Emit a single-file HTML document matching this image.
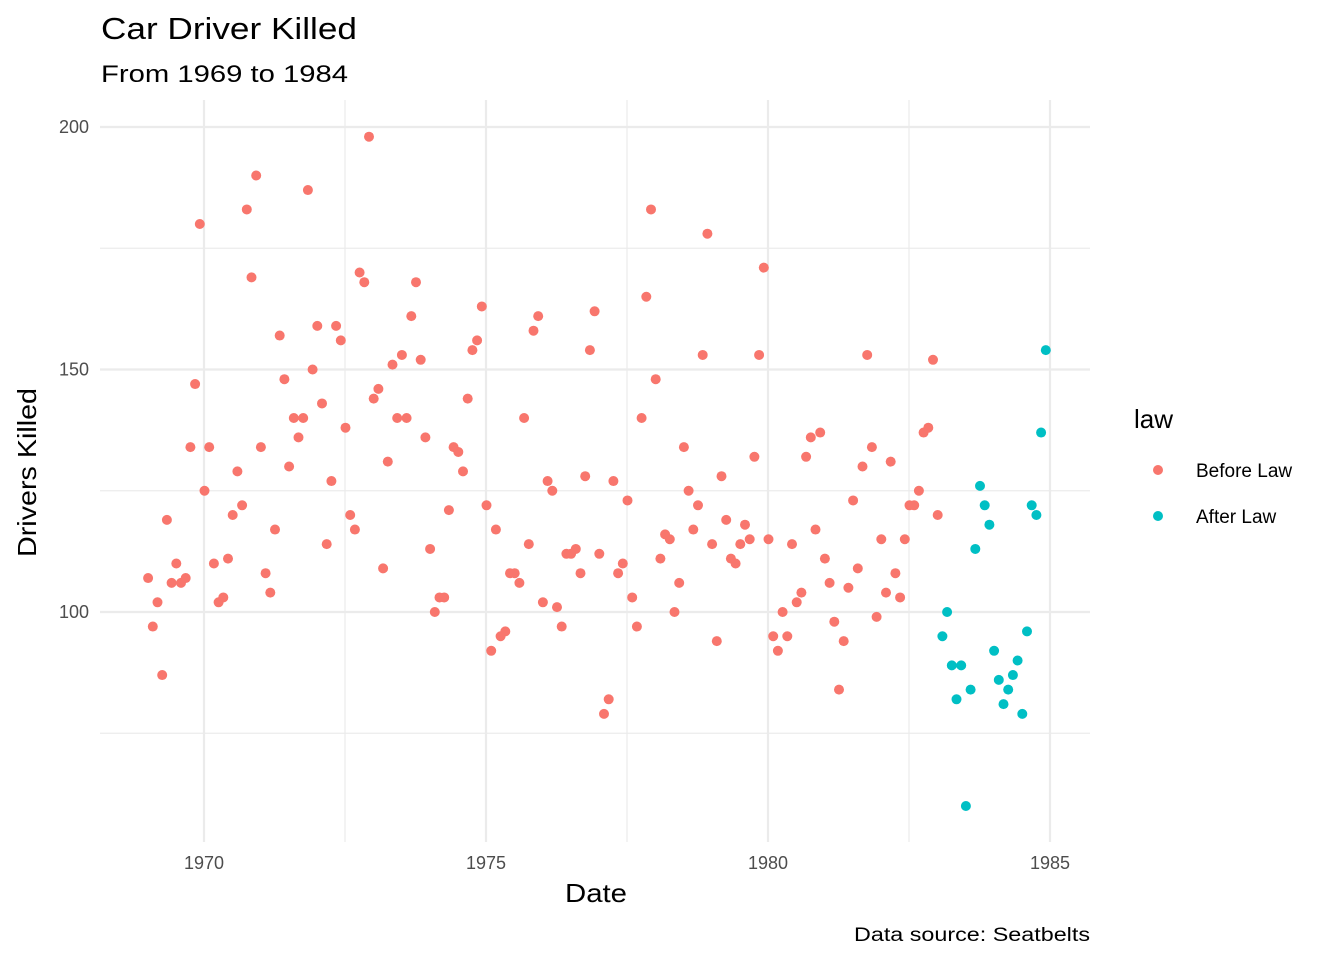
<!DOCTYPE html>
<html><head><meta charset="utf-8">
<style>
html,body{margin:0;padding:0;background:#fff;}
svg{display:block;font-family:"Liberation Sans",Arial,sans-serif;}
</style></head>
<body>
<svg id="chart" width="1344" height="960">
<text x="101" y="39" font-size="31" textLength="256" lengthAdjust="spacingAndGlyphs" fill="#000">Car Driver Killed</text>
<text x="101" y="82" font-size="24" textLength="247" lengthAdjust="spacingAndGlyphs" fill="#000">From 1969 to 1984</text>
<g id="grid"></g>
<g id="ticks"></g>
<g id="points"></g>
<text x="565" y="902" font-size="26" textLength="62" lengthAdjust="spacingAndGlyphs" fill="#000">Date</text>
<text transform="translate(36,557) rotate(-90)" font-size="26" textLength="169" lengthAdjust="spacingAndGlyphs" fill="#000">Drivers Killed</text>
<text x="854" y="941" font-size="19" textLength="236" lengthAdjust="spacingAndGlyphs" fill="#000">Data source: Seatbelts</text>
<g>
<text x="1134" y="428" font-size="26" fill="#000">law</text>
<circle cx="1158" cy="470" r="5" fill="#F8766D"/>
<text x="1196" y="477" font-size="19" fill="#000">Before Law</text>
<circle cx="1158" cy="516" r="5" fill="#00BFC4"/>
<text x="1196" y="523" font-size="19" fill="#000">After Law</text>
</g>
</svg>
<script>
const startYear = 1969;
const killed = [
107,97,102,87,119,106,110,106,107,134,147,180,
125,134,110,102,103,111,120,129,122,183,169,190,
134,108,104,117,157,148,130,140,136,140,187,150,
159,143,114,127,159,156,138,120,117,170,168,198,
144,146,109,131,151,140,153,140,161,168,152,136,
113,100,103,103,121,134,133,129,144,154,156,163,
122,92,117,95,96,108,108,106,140,114,158,161,
102,127,125,101,97,112,112,113,108,128,154,162,
112,79,82,127,108,110,123,103,97,140,165,183,
148,111,116,115,100,106,134,125,117,122,153,178,
114,94,128,119,111,110,114,118,115,132,153,171,
115,95,92,100,95,114,102,104,132,136,117,137,
111,106,98,84,94,105,123,109,130,153,134,99,
115,104,131,108,103,115,122,122,125,137,138,152,
120,95,100,89,82,89,60,84,113,126,122,118,
92,86,81,84,87,90,79,96,122,120,137,154];
const lawStartIndex = 169; // Feb 1983
const xTicks = [1970,1975,1980,1985];
const xMinor = [1972.5,1977.5,1982.5];
const yTicks = [100,150,200];
const yMinor = [75,125,175];

const X = v => 204 + (v-1970)*(1050-204)/15;
const Y = v => 612 - (v-100)*(612-127)/100;
const NS = "http://www.w3.org/2000/svg";
const grid = document.getElementById('grid');
const ticks = document.getElementById('ticks');
const pts = document.getElementById('points');
function line(x1,y1,x2,y2,w,name){
  const l=document.createElementNS(NS,'line');
  l.setAttribute('x1',x1);l.setAttribute('y1',y1);l.setAttribute('x2',x2);l.setAttribute('y2',y2);
  l.setAttribute('stroke','#EBEBEB');l.setAttribute('stroke-width',w);
  
  
  grid.appendChild(l);
}
const L=100,R=1090,T=100,B=842;
yMinor.forEach(v=>line(L,Y(v),R,Y(v),1.2,'y-minor-gridline'));
xMinor.forEach(v=>line(X(v),T,X(v),B,1.2,'x-minor-gridline'));
yTicks.forEach(v=>line(L,Y(v),R,Y(v),2.2,'y-major-gridline'));
xTicks.forEach(v=>line(X(v),T,X(v),B,2.2,'x-major-gridline'));
function txt(x,y,s,anchor,name){
  const t=document.createElementNS(NS,'text');
  t.setAttribute('x',x);t.setAttribute('y',y);t.setAttribute('font-size','18');
  t.setAttribute('fill','#4D4D4D');t.setAttribute('text-anchor',anchor);
  t.textContent=s;
  
  
  ticks.appendChild(t);
}
xTicks.forEach(v=>txt(X(v),869,String(v),'middle','x-tick-label'));
yTicks.forEach(v=>txt(89,Y(v)+6,String(v),'end','y-tick-label'));
killed.forEach((v,i)=>{
  const c=document.createElementNS(NS,'circle');
  c.setAttribute('cx',X(startYear+i/12)+0.5);c.setAttribute('cy',Y(v));c.setAttribute('r',5);
  c.setAttribute('fill', i>=lawStartIndex ? '#00BFC4' : '#F8766D');
  
  
  pts.appendChild(c);
});
</script>
</body></html>
